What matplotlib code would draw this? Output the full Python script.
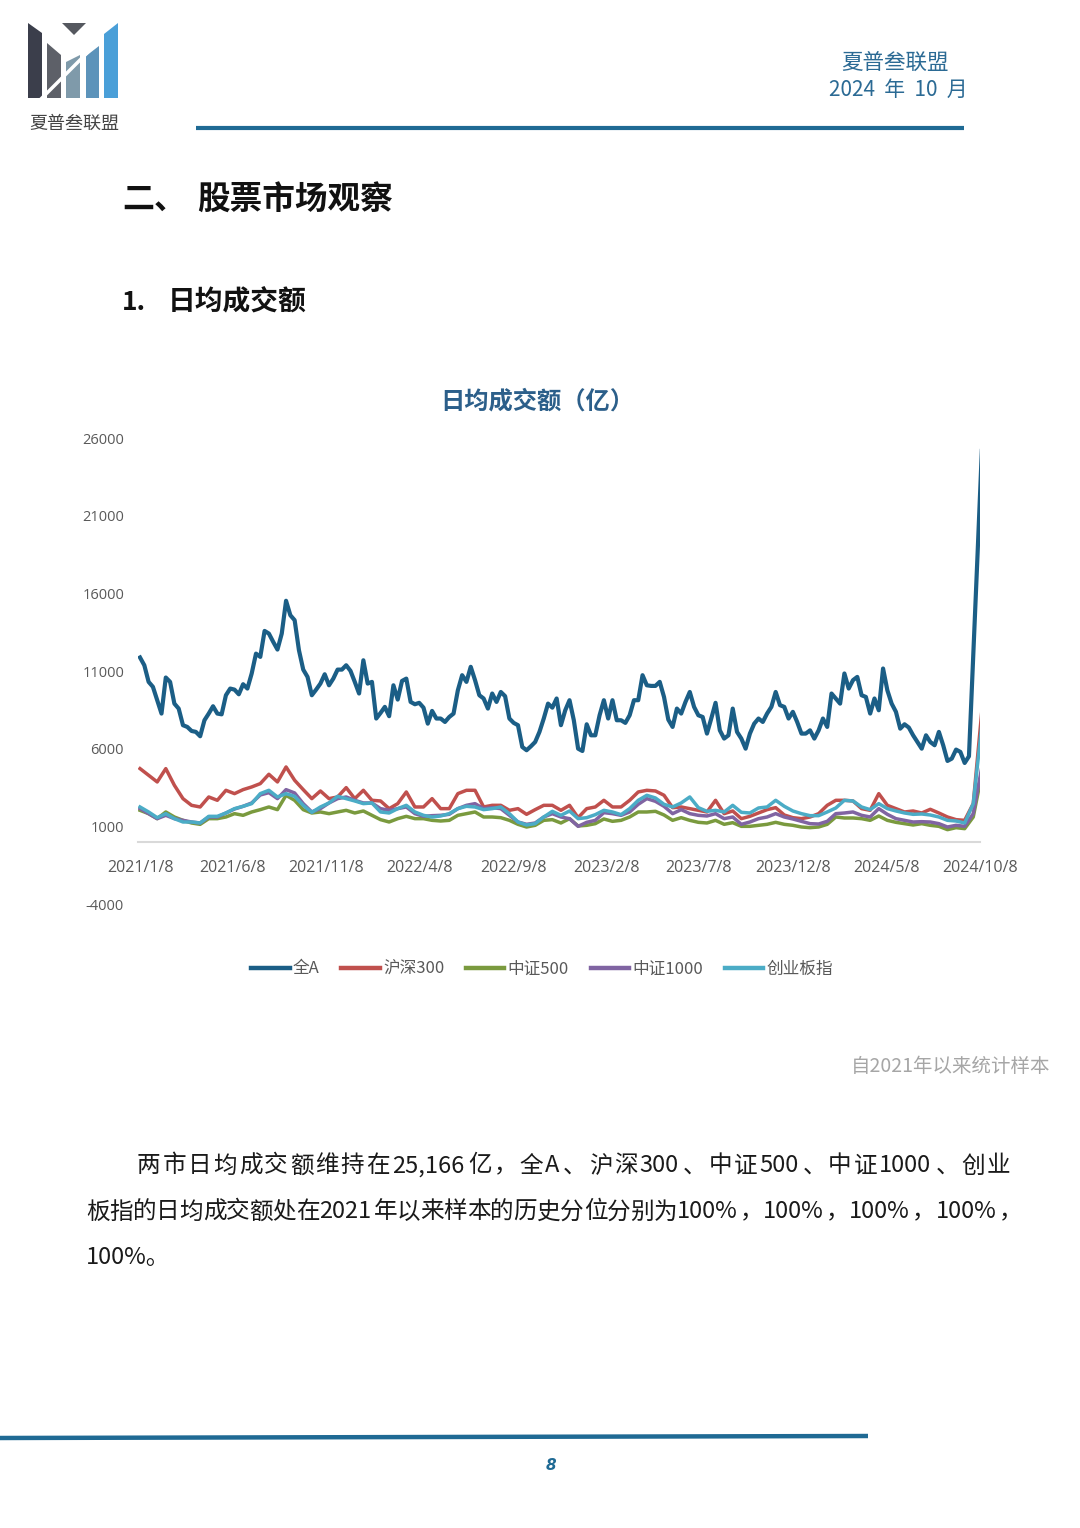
import re
import numpy as np
import pandas as pd
import matplotlib
matplotlib.use('Agg')
import matplotlib.pyplot as plt
from matplotlib.patches import Polygon

plt.rcParams['font.family'] = ['Noto Sans CJK SC', 'DejaVu Sans']

# 日均成交额（亿），周度，自 2021/1/8 起
all_a = [
    11870, 11370, 10300, 9980, 9120, 8260, 10580, 10300, 8900, 8580,
    7510, 7400, 7140, 7080, 6800, 7830, 8260, 8730, 8260, 8210,
    9440, 9870, 9800, 9500, 10150, 9870, 10840, 12120, 11910, 13580,
    13410, 12880, 12380, 13410, 15520, 14590, 14270, 12340, 11090, 10620,
    9440, 9800, 10190, 10790, 10080, 10510, 11090, 11090, 11370, 11010,
    10300, 9550, 11690, 10190, 10300, 7940, 8300, 8690, 8090, 10080,
    9160, 10360, 10510, 9010, 8860, 8950, 8640, 7610, 8430, 7940,
    7940, 7720, 8040, 8260, 9760, 10730, 10300, 11270, 10410, 9440,
    9230, 8580, 9550, 9010, 9650, 9380, 7940, 7660, 7510, 6110,
    5900, 6150, 6430, 7080, 7940, 8900, 8640, 9230, 7510, 8470,
    9120, 7830, 6000, 5850, 7570, 6860, 6860, 8150, 9120, 7940,
    9120, 7830, 7830, 7660, 8150, 9120, 9120, 10730, 10080, 10040,
    10040, 10300, 9330, 7870, 7400, 8580, 8260, 9010, 9650, 8690,
    8150, 8040, 6970, 7940, 8950, 7180, 6650, 6860, 8580, 7080,
    6650, 6000, 6970, 7610, 7940, 7720, 8260, 8690, 9650, 8800,
    8690, 7940, 8370, 7720, 6970, 6970, 7180, 6650, 7180, 7940,
    7400, 9550, 9230, 8900, 10840, 9870, 10410, 10620, 9440, 9330,
    8260, 9230, 8470, 11160, 9760, 8900, 8370, 7290, 7570, 7360,
    6860, 6430, 6000, 6860, 6430, 6220, 7080, 6220, 5210, 5360,
    5940, 5790, 5080, 5510, 12000, 18500, 25166,
]

# 其余指数按双周读数
hs300 = [
    4716, 4287, 3857, 4716, 3642, 2783, 2353, 2246, 2890, 2676,
    3320, 3105, 3363, 3535, 3750, 4351, 3857, 4823, 3964, 3363,
    2783, 3277, 2783, 2890, 3492, 2783, 3320, 2676, 2633, 2139,
    2461, 3213, 2246, 2246, 2783, 2139, 2139, 3105, 3320, 3320,
    2246, 2353, 2353, 2031, 2139, 1773, 2074, 2353, 2353, 2031,
    2353, 1558, 2139, 2246, 2676, 2246, 2246, 2676, 3213, 3320,
    3277, 3000, 2203, 2246, 2139, 2031, 1924, 2676, 1816, 1988,
    1494, 1644, 1859, 2074, 2203, 1730, 1558, 1494, 1601, 1816,
    2353, 2676, 2676, 2633, 2139, 2031, 3105, 2353, 2139, 1924,
    1988, 1859, 2096, 1859, 1601, 1430, 1386, 2461, 8431,
]
zz500 = [
    2031, 1816, 1494, 1924, 1601, 1386, 1215, 1129, 1494, 1494,
    1601, 1816, 1709, 1924, 2074, 2246, 2074, 2998, 2676, 2074,
    1859, 1924, 1816, 1924, 2031, 1859, 1988, 1709, 1430, 1279,
    1494, 1644, 1494, 1494, 1386, 1343, 1386, 1709, 1816, 1924,
    1601, 1601, 1558, 1386, 1129, 957, 1065, 1386, 1430, 1215,
    1494, 1022, 1065, 1172, 1473, 1322, 1386, 1601, 1924, 1924,
    1967, 1731, 1386, 1558, 1386, 1258, 1215, 1386, 1129, 1236,
    1000, 1000, 1065, 1129, 1258, 1129, 1065, 957, 914, 957,
    1129, 1601, 1537, 1537, 1494, 1386, 1666, 1386, 1258, 1172,
    1086, 1172, 1065, 1000, 786, 914, 850, 1601, 4393,
]
zz1000 = [
    2138, 1816, 1494, 1709, 1494, 1386, 1279, 1215, 1601, 1601,
    1859, 2117, 2289, 2504, 3019, 3169, 2783, 3363, 3148, 2461,
    1924, 2139, 2504, 2783, 2890, 2676, 2504, 2504, 2139, 2031,
    2139, 2246, 1816, 1644, 1687, 1709, 1773, 2139, 2353, 2461,
    2139, 2203, 2139, 1709, 1279, 1129, 1215, 1601, 1816, 1601,
    1494, 1000, 1258, 1386, 1881, 1816, 1709, 1924, 2418, 2783,
    2611, 2289, 1816, 2074, 1816, 1709, 1666, 1816, 1494, 1601,
    1129, 1279, 1494, 1601, 1816, 1601, 1473, 1322, 1172, 1150,
    1322, 1816, 1859, 1924, 1709, 1601, 2139, 1773, 1494, 1386,
    1279, 1300, 1279, 1172, 957, 1065, 1000, 1816, 4823,
]
cyb = [
    2246, 1924, 1558, 1816, 1494, 1279, 1279, 1215, 1644, 1644,
    1859, 2139, 2289, 2461, 3105, 3320, 2890, 3105, 2933, 2353,
    1902, 2246, 2504, 2933, 2783, 2633, 2461, 2504, 1924, 1859,
    2139, 2353, 1924, 1709, 1601, 1666, 1816, 2139, 2289, 2246,
    2074, 2139, 2246, 1816, 1279, 1086, 1172, 1601, 1966, 1709,
    1988, 1494, 1558, 1752, 2031, 1924, 1752, 2139, 2676, 2998,
    2826, 2418, 2246, 2504, 2890, 2203, 1966, 2031, 1924, 2353,
    1902, 1859, 2182, 2246, 2676, 2289, 1988, 1816, 1687, 1687,
    1924, 2182, 2676, 2633, 2246, 2074, 2461, 2139, 1988, 1859,
    1773, 1795, 1730, 1601, 1386, 1343, 1215, 2461, 7508,
]

names = ['全A', '沪深300', '中证500', '中证1000', '创业板指']
colors = ['#1b5e86', '#c0504d', '#7a9a3e', '#8064a2', '#4bacc6']
y_ticks = [-4000, 1000, 6000, 11000, 16000, 21000, 26000]
x_ticks = ['2021/1/8', '2021/6/8', '2021/11/8', '2022/4/8', '2022/9/8',
           '2023/2/8', '2023/7/8', '2023/12/8', '2024/5/8', '2024/10/8']

weeks = pd.date_range('2021-01-08', periods=len(all_a), freq='7D')
weeks2 = weeks[::2]

fig = plt.figure(figsize=(10.8, 15.28), dpi=100)

# page layer in pixel coordinates
page = fig.add_axes([0, 0, 1, 1])
page.set_xlim(0, 1080)
page.set_ylim(1528, 0)
page.axis('off')

# logo
bars = [
    ([(28, 23), (42, 33), (42, 98), (28, 98)], '#3b3e4b'),
    ([(47, 43), (61, 55), (61, 98), (47, 98)], '#5d6068'),
    ([(66, 62), (80, 55), (80, 98), (66, 98)], '#7f9aaa'),
    ([(86, 56), (99, 46), (99, 98), (86, 98)], '#5c93ba'),
    ([(104, 34), (118, 23), (118, 98), (104, 98)], '#4a9fd8'),
    ([(62, 23), (86, 23), (74, 35)], '#55585f'),
]
for pts, c in bars:
    page.add_patch(Polygon(pts, closed=True, color=c, lw=0))
page.plot([40, 102], [100, 38], color='white', lw=2.5, solid_capstyle='butt')
page.text(74, 124, '夏普叁联盟', fontsize=13, color='#444444', ha='center', va='center')

# header
page.text(895, 63, '夏普叁联盟', fontsize=15.5, color='#2b6a94', ha='center', va='center')
page.text(898, 90, '2024  年  10  月', fontsize=15, color='#2b6a94', ha='center', va='center')
page.plot([196, 964], [128, 128], color='#1f6a94', lw=3, solid_capstyle='butt')

# section titles
page.text(122, 200, '二、', fontsize=23, fontweight='bold', color='#111111', va='center')
page.text(197, 200, '股票市场观察', fontsize=23.5, fontweight='bold', color='#111111', va='center')
page.text(122, 302, '1.', fontsize=19, fontweight='bold', color='#111111', va='center')
page.text(168, 302, '日均成交额', fontsize=20, fontweight='bold', color='#111111', va='center')

# chart title
page.text(537, 402, '日均成交额（亿）', fontsize=17.5, fontweight='bold', color='#2c5f8a',
          ha='center', va='center')

# chart
ax = fig.add_axes([138 / 1080, (1528 - 904) / 1528, (980 - 138) / 1080, 466 / 1528])
ax.patch.set_alpha(0)
ax.plot(weeks, all_a, color=colors[0], lw=3.0, label=names[0], solid_joinstyle='round')
for vals, name, c in zip([hs300, zz500, zz1000, cyb], names[1:], colors[1:]):
    ax.plot(weeks2, vals, color=c, lw=2.5, label=name, solid_joinstyle='round')

ax.set_ylim(-4000, 26000)
ax.set_yticks(y_ticks)
ax.set_yticklabels([str(v) for v in y_ticks])
tick_dates = pd.to_datetime(x_ticks, format='%Y/%m/%d')
ax.set_xlim(weeks[0] - pd.Timedelta(days=3.3), pd.Timestamp('2024-10-08'))
ax.set_xticks(tick_dates)
ax.set_xticklabels(x_ticks)
for s in ['top', 'right', 'left']:
    ax.spines[s].set_visible(False)
ax.spines['bottom'].set_position(('data', 0))
ax.spines['bottom'].set_color('#d9d9d9')
ax.spines['bottom'].set_linewidth(1.5)
ax.tick_params(axis='both', length=0, labelcolor='#595959')
ax.tick_params(axis='x', pad=13, labelsize=11.5)
ax.tick_params(axis='y', pad=10, labelsize=10.5)
for lab in ax.get_xticklabels() + ax.get_yticklabels():
    lab.set_fontfamily(['Open Sans', 'DejaVu Sans'])

leg = ax.legend(loc='center', bbox_to_anchor=(542 / 1080, 1 - 969 / 1528),
                bbox_transform=fig.transFigure, ncol=5, frameon=False,
                fontsize=12, handlelength=2.3, handletextpad=0.2,
                columnspacing=1.3, labelcolor='#595959')
for h in leg.get_lines():
    h.set_linewidth(3.2)

# footnote
page.text(1050, 1067, '自2021年以来统计样本', fontsize=14, color='#a6a6a6',
          ha='right', va='center', style='italic')


# paragraph, justified like the source document
def justify(x0, x1, y, s, size, **kw):
    em = size * 100 / 72
    renderer = fig.canvas.get_renderer()
    tokens = re.findall(r'[\x00-\x7f]+|.', s)
    items = []
    for tok in tokens:
        t = page.text(0, y, tok, fontsize=size, va='center', **kw)
        if tok.isascii():
            w = t.get_window_extent(renderer).width + 0.1 * em
        else:
            w = em
        items.append((t, w))
    gap = (x1 - x0 - sum(w for _, w in items)) / (len(items) - 1)
    pos = x0
    for t, w in items:
        t.set_x(pos)
        pos += w + gap


para_size = 17
justify(137, 1010, 1166, '两市日均成交额维持在25,166亿，全A、沪深300、中证500、中证1000、创业',
        para_size, color='#1a1a1a')
justify(86, 1022, 1212, '板指的日均成交额处在2021年以来样本的历史分位分别为100%，100%，100%，100%，',
        para_size, color='#1a1a1a')
page.text(86, 1258, '100%。', fontsize=para_size, color='#1a1a1a', va='center')

# footer
page.plot([0, 868], [1438, 1436], color='#1f6a94', lw=3.2, solid_capstyle='butt')
page.text(551, 1466, '8', fontsize=11, color='#1f6a94', ha='center', va='center',
          style='italic', fontweight='bold', family=['DejaVu Sans'])

fig.savefig('out.png', dpi=100)
